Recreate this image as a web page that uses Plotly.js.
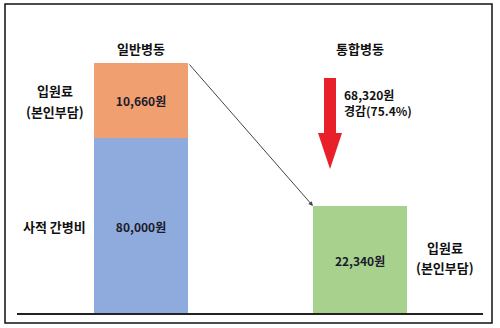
<!DOCTYPE html>
<html>
<head>
<meta charset="utf-8">
<script src="https://cdn.plot.ly/plotly-3.0.1.min.js"></script>
<style>
html,body{margin:0;padding:0;background:#fff;}
#chart{width:500px;height:328px;}
</style>
</head>
<body>
<div id="chart"></div>
<script>
// Categories (wards)
const wards = ['일반병동', '통합병동'];
// Amounts shown as labels (원)
const caregivingCost = [80000, 0];      // 사적 간병비
const hospitalFee = [10660, 22340];     // 입원료 (본인부담)
const saving = 68320;                   // 경감액
const savingPct = 75.4;                 // 경감률 (%)
// Bar heights as drawn in the (schematic) picture, arbitrary units
const drawnCaregiving = [176, 0];
const drawnFee = [75, 108];
// Label texts
const feeLabel = ['입원료', '(본인부담)'];
const caregivingLabel = '사적 간병비';

const fmt = v => v.toLocaleString('en-US') + '원';
const FONT = '"Noto Sans CJK KR", "Noto Sans", sans-serif';
const barW = 0.43;

const traces = [
  {
    type: 'bar', x: [wards[0]], y: [drawnCaregiving[0]],
    width: barW, marker: {color: '#8FAADC', line: {width: 0}},
    text: [fmt(caregivingCost[0])], textposition: 'inside', insidetextanchor: 'middle',
    textangle: 0, constraintext: 'none',
    insidetextfont: {family: FONT, size: 12, color: '#1b1b2b', weight: 700},
    hoverinfo: 'none'
  },
  {
    type: 'bar', x: wards, y: drawnFee,
    width: barW, marker: {color: ['#F0A070', '#A9D18E'], line: {width: 0}},
    text: hospitalFee.map(fmt), textposition: 'inside', insidetextanchor: 'middle',
    textangle: 0, constraintext: 'none',
    insidetextfont: {family: FONT, size: 12, color: '#1b1b2b', weight: 700},
    hoverinfo: 'none'
  }
];

const t = {family: FONT, size: 13, color: '#111', weight: 700};
const t2 = {family: FONT, size: 12, color: '#111', weight: 700};
const top0 = drawnCaregiving[0] + drawnFee[0];

const annotations = [
  {x: 0, y: 266, xref: 'x', yref: 'y', text: wards[0], showarrow: false, font: t},
  {x: 1, y: 266, xref: 'x', yref: 'y', text: wards[1], showarrow: false, font: t},
  {x: -0.393, y: 224, xref: 'x', yref: 'y', text: feeLabel[0], showarrow: false, font: t},
  {x: -0.393, y: 203, xref: 'x', yref: 'y', text: feeLabel[1], showarrow: false, font: t},
  {x: -0.393, y: 88, xref: 'x', yref: 'y', text: caregivingLabel, showarrow: false, font: t},
  {x: 1.388, y: 67, xref: 'x', yref: 'y', text: feeLabel[0], showarrow: false, font: t},
  {x: 1.388, y: 47, xref: 'x', yref: 'y', text: feeLabel[1], showarrow: false, font: t},
  {x: 0.918, y: 212, xref: 'x', yref: 'y', xanchor: 'left', align: 'left',
   text: saving.toLocaleString('en-US') + '원<br>경감(' + savingPct + '%)', showarrow: false, font: t2},
  // diagonal connector arrow
  {x: 1 - barW / 2, y: drawnFee[1], xref: 'x', yref: 'y',
   ax: barW / 2, ay: top0, axref: 'x', ayref: 'y',
   showarrow: true, arrowhead: 2, arrowsize: 0.9, arrowwidth: 1, arrowcolor: '#444',
   standoff: 0, startstandoff: 0, text: ''}
];

// red arrow (paper coords = page pixels / size)
const P = (px, py) => (px / 500).toFixed(4) + ',' + (1 - py / 328).toFixed(4);
const arrowPath = 'M' + P(324, 78) + ' L' + P(336, 78) + ' L' + P(336, 133) + ' L' + P(342, 133) +
  ' L' + P(330, 169) + ' L' + P(318, 133) + ' L' + P(324, 133) + ' Z';

const shapes = [
  {type: 'rect', xref: 'paper', yref: 'paper', x0: 5 / 500, x1: 492 / 500, y0: 1 - 323 / 328, y1: 1 - 4 / 328,
   line: {color: '#111', width: 1.5}, fillcolor: 'rgba(0,0,0,0)'},
  {type: 'line', xref: 'paper', yref: 'y', x0: 17 / 500, x1: 483 / 500, y0: 0, y1: 0,
   line: {color: '#222', width: 2}},
  {type: 'path', xref: 'paper', yref: 'paper', path: arrowPath, fillcolor: '#E8202A', line: {width: 0}}
];

const layout = {
  width: 500, height: 328,
  margin: {l: 0, r: 0, t: 0, b: 0},
  paper_bgcolor: '#fff', plot_bgcolor: '#fff',
  barmode: 'stack', bargap: 0,
  showlegend: false,
  xaxis: {range: [-0.644, 1.639], visible: false, fixedrange: true, type: 'category'},
  yaxis: {range: [-14, 314], visible: false, fixedrange: true},
  annotations: annotations,
  shapes: shapes
};

Plotly.newPlot('chart', traces, layout, {displayModeBar: false, staticPlot: true});
</script>
</body>
</html>
